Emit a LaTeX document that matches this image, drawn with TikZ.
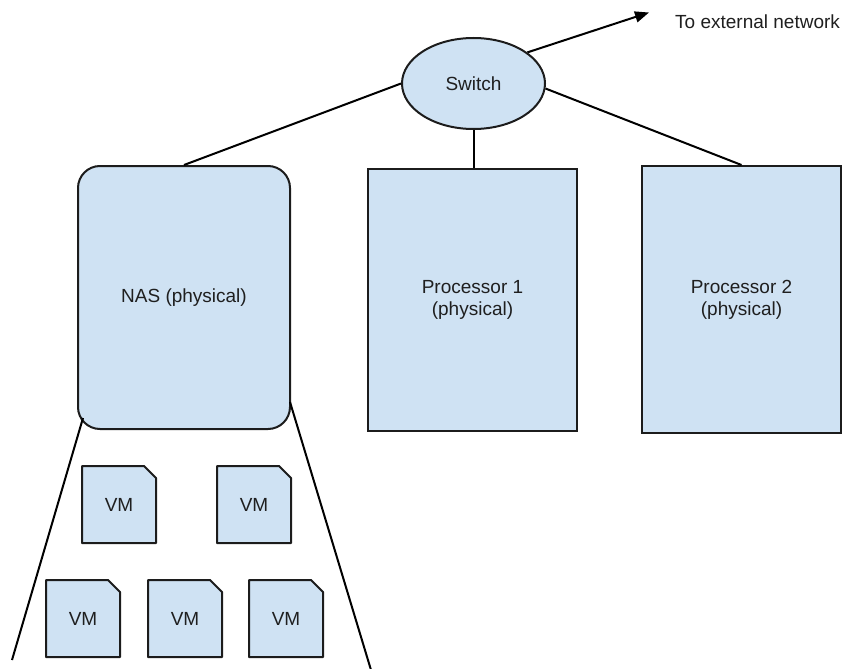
\documentclass[tikz,border=0pt]{standalone}
\usepackage{fontspec}
\setmainfont{Liberation Sans}
\usetikzlibrary{shapes.geometric,arrows.meta}
\definecolor{boxfill}{HTML}{CFE2F3}
\definecolor{boxline}{HTML}{1C1C1C}
\newcommand\vmbox[3]{%
  \filldraw[vmshape] (#2,#3) -- ++(62,0) -- ++(12,12) -- ++(0,65) -- ++(-74,0) -- cycle;
  \node[vmtext] (#1) at (#2+37,#3+39) {VM};}
\begin{document}
\begin{tikzpicture}[x=1pt,y=-1pt,
  every node/.style={font=\fontsize{19}{22}\selectfont, text=black!88},
  box/.style={draw=boxline, fill=boxfill, line width=2pt, inner sep=0pt, align=center},
  conn/.style={draw=black, line width=2pt},
  vmshape/.style={draw=boxline, fill=boxfill, line width=2pt, line join=round},
  vmtext/.style={inner sep=0pt}]
\useasboundingbox (0,0) rectangle (843,669);
% switch
\node[box, ellipse, minimum width=143pt, minimum height=91pt] (sw) at (473.5,83.5) {Switch};
% NAS
\node[box, rounded corners=22pt, minimum width=212pt, minimum height=263pt] (nas) at (184,297.5) {NAS (physical)};
% processors
\node[box, minimum width=209pt, minimum height=262pt] (p1) at (472.5,300) {Processor 1\\(physical)};
\node[box, minimum width=199pt, minimum height=267pt] (p2) at (741.5,299.5) {Processor 2\\(physical)};
% external
\coordinate (ext) at (649,12.5);
\node[anchor=west, inner sep=0pt] (extlabel) at (675,22) {To external network};
\draw[conn, -{Triangle[length=14pt,width=11pt]}] (sw.30) -- (ext);
% connections
\draw[conn] (sw.west) -- (nas.north);
\draw[conn] (sw.south) -- (sw.south |- p1.north);
\draw[conn] (sw.-4) -- (p2.north);
% fan lines
\coordinate (nasL) at (83,418);
\coordinate (nasR) at (290,402);
\coordinate (endL) at (12,660);
\coordinate (endR) at (371,670);
\draw[conn] (nasL) -- (endL);
\draw[conn] (nasR) -- (endR);
% VMs
\vmbox{vma}{82}{466}
\vmbox{vmb}{217}{466}
\vmbox{vmc}{46}{580}
\vmbox{vmd}{148}{580}
\vmbox{vme}{249}{580}
\end{tikzpicture}
\end{document}
